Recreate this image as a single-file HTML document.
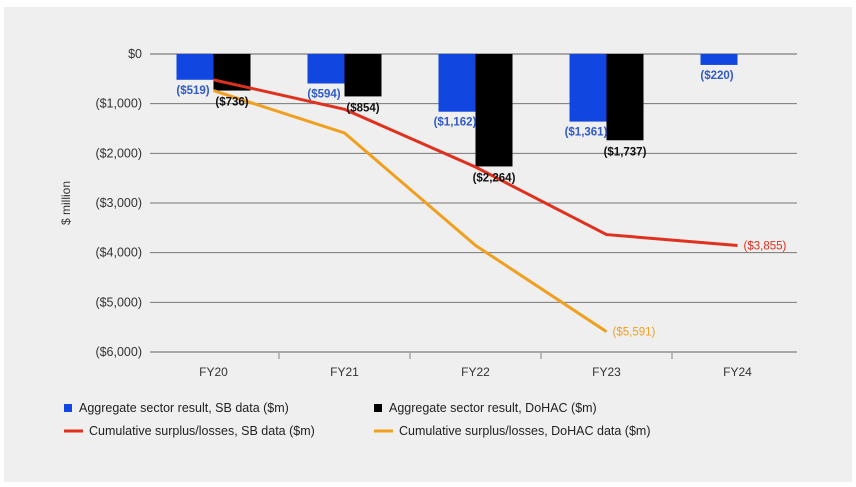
<!DOCTYPE html>
<html><head><meta charset="utf-8"><style>
body{margin:0;background:#fff;font-family:"Liberation Sans",sans-serif}
#panel{position:absolute;left:4px;top:7px;width:848px;height:475px;background:#efefef}
svg{position:absolute;left:0;top:0}
</style></head><body>
<div id="panel"></div>
<svg id="chart" width="856" height="487"></svg>
<script>
const categories=["FY20","FY21","FY22","FY23","FY24"];
const sbResult=[-519,-594,-1162,-1361,-220];
const dohacResult=[-736,-854,-2264,-1737,null];
const sbCumulative=[-519,-1113,-2275,-3636,-3855];
const dohacCumulative=[-736,-1590,-3854,-5591,null];
const yTicks=[0,-1000,-2000,-3000,-4000,-5000,-6000];
const yTickLabels=["$0","($1,000)","($2,000)","($3,000)","($4,000)","($5,000)","($6,000)"];

const svg=document.getElementById('chart');
const NS='http://www.w3.org/2000/svg';
const x0=148,x1=803,yTop=54,yBot=352;
const band=(x1-x0)/categories.length;
const xc=i=>x0+band*(i+0.5);
const y=v=>yTop+(0-v)/6000*(yBot-yTop);
const fmt=v=>'($'+Math.abs(v).toLocaleString('en-US')+')';
function el(tag,attrs,parent){const e=document.createElementNS(NS,tag);for(const k in attrs)e.setAttribute(k,attrs[k]);(parent||svg).appendChild(e);return e;}
function txt(s,attrs){const t=el('text',Object.assign({'font-family':'Liberation Sans, sans-serif','font-size':12},attrs));t.textContent=s;return t;}

yTicks.forEach((v,i)=>{
  const l=el('line',{x1:150,x2:797,y1:y(v),y2:y(v),stroke:i==0||i==6?'#a8a8a8':'#777','stroke-width':i==0||i==6?2:1});
  
  
  const t=txt(yTickLabels[i],{x:142,y:y(v)+4,'text-anchor':'end',fill:'#333','font-size':12.5});
  
  
});
for(let i=1;i<categories.length;i++){
  const l=el('line',{x1:x0+band*i,x2:x0+band*i,y1:yBot,y2:yBot+7,stroke:'#a8a8a8','stroke-width':1.5});
  
  
}
categories.forEach((c,i)=>{
  const t=txt(c,{x:xc(i),y:yBot+24,'text-anchor':'middle',fill:'#333'});
  
  
});
const yt=txt('$ million',{x:0,y:0,transform:'translate(70,203) rotate(-90)','text-anchor':'middle',fill:'#333'});



const bw=37;
sbResult.forEach((v,i)=>{
  const r=el('rect',{x:xc(i)-bw,y:y(0),width:bw,height:y(v)-y(0),fill:'#1147e0'});
  
  
});
dohacResult.forEach((v,i)=>{
  if(v==null)return;
  const r=el('rect',{x:xc(i),y:y(0),width:bw,height:y(v)-y(0),fill:'#000'});
  
  
});
function line(data,color,name){
  const pts=[];data.forEach((v,i)=>{if(v!=null)pts.push(xc(i)+','+y(v));});
  const p=el('polyline',{points:pts.join(' '),fill:'none',stroke:color,'stroke-width':3});
  
  
  let li=-1;data.forEach((v,i)=>{if(v!=null)li=i;});
  const t=txt(fmt(data[li]),{x:xc(li)+6,y:y(data[li])+4,fill:color,'font-size':11.5});
  
  
}
line(dohacCumulative,'#f0a020','line-dohac-cumulative');
line(sbCumulative,'#e0301e','line-sb-cumulative');
sbResult.forEach((v,i)=>{
  const t=txt(fmt(v),{x:xc(i)-bw/2-2,y:y(v)+14,'text-anchor':'middle',fill:'#2f5ac8','font-weight':'bold','font-size':11.5});
  
  
});
dohacResult.forEach((v,i)=>{
  if(v==null)return;
  const t=txt(fmt(v),{x:xc(i)+bw/2,y:y(v)+15,'text-anchor':'middle',fill:'#111','font-weight':'bold','font-size':11.5});
  
  
});

const legend=[
 {type:'sq',color:'#1147e0',label:'Aggregate sector result, SB data ($m)',x:64,y:412},
 {type:'sq',color:'#000',label:'Aggregate sector result, DoHAC ($m)',x:374,y:412},
 {type:'ln',color:'#e0301e',label:'Cumulative surplus/losses, SB data ($m)',x:64,y:435},
 {type:'ln',color:'#f0a020',label:'Cumulative surplus/losses, DoHAC data ($m)',x:374,y:435}
];
legend.forEach(l=>{
  const g=el('g',{});
  
  
  if(l.type=='sq'){el('rect',{x:l.x,y:l.y-8,width:8,height:8,fill:l.color},g);}
  else{el('line',{x1:l.x,x2:l.x+19,y1:l.y-4,y2:l.y-4,stroke:l.color,'stroke-width':3},g);}
  const t=txt(l.label,{x:l.x+(l.type=='sq'?15:25),y:l.y,fill:'#222','font-size':12.5});
  g.appendChild(t);
});
</script>
</body></html>
